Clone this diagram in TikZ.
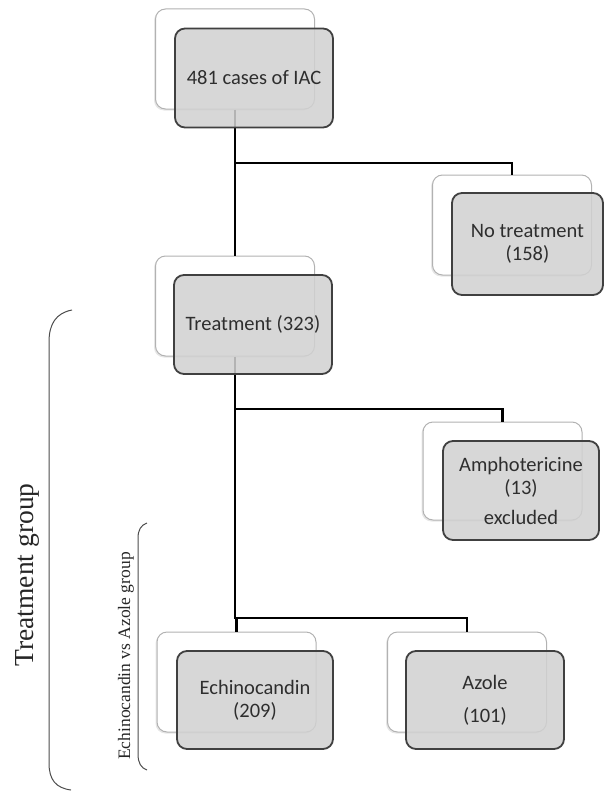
\documentclass[tikz,border=0pt]{standalone}
\usepackage{fontspec}
\setmainfont{Liberation Serif}
\newfontfamily\boxfont{Carlito}
\usetikzlibrary{shadows}
\begin{document}
\begin{tikzpicture}[x=1pt,y=-1pt,
  backbox/.style={draw=black!30, line width=1pt, fill=white, rounded corners=10pt,
    minimum width=159pt, minimum height=100pt, inner sep=0pt,
    drop shadow={shadow xshift=-1.5pt, shadow yshift=-1.5pt, opacity=0.2}},
  frontbox/.style={draw=black!75, line width=1.8pt, fill=black!18, fill opacity=0.86,
    text opacity=1, rounded corners=10pt, minimum width=158pt, minimum height=99pt,
    inner sep=0pt, align=center, text=black!82,
    font=\boxfont\fontsize{20.5}{23}\selectfont},
  conn/.style={draw=black, line width=2.7pt},
  bracket/.style={draw=black!70, line width=1pt},
  grouplabel/.style={rotate=90, text=black!85, inner sep=0pt}]
\useasboundingbox (0,0) rectangle (604,792);
% back boxes
\node[backbox] (b1)  at (235,59) {};
\node[backbox] (bNT) at (512,225) {};
\node[backbox] (bT)  at (235,306) {};
\node[backbox, minimum height=98pt] (bA) at (502.5,471) {};
\node[backbox] (bE)  at (236.5,682) {};
\node[backbox] (bZ)  at (467,682) {};
% junctions
\coordinate (j1) at (235,163);
\coordinate (j2) at (235,409);
\coordinate (j3) at (235,618);
% connectors
\draw[conn] (b1.south) -- (bT.north);
\draw[conn] (j1) -| (bNT.north);
\draw[conn] (bT.south) -- (j3) -| (bE.north);
\draw[conn] (j2) -| (bA.north);
\draw[conn] (j3) -| (bZ.north);
% front boxes
\node[frontbox] (f1)  at (254,78) {481 cases of IAC};
\node[frontbox, minimum width=151pt, minimum height=102pt] (fNT) at (527.5,244) {No treatment\\(158)};
\node[frontbox] (fT)  at (253,324.5) {Treatment (323)};
\node[frontbox, minimum width=156pt] (fA) at (521,490.5) {Amphotericine\\(13)\\[7pt]excluded};
\node[frontbox, minimum width=156pt, minimum height=98pt] (fE) at (255,700) {Echinocandin\\(209)};
\node[frontbox, minimum height=98pt] (fZ) at (485,700) {Azole\\[10pt](101)};
% brackets
\draw[bracket] (72,310) .. controls (56,313) and (49,324) .. (49,342) -- (49,763)
  .. controls (49,780) and (56,788) .. (71,790);
\draw[bracket] (147,523) .. controls (141,525) and (138,530) .. (138,538) -- (138,754)
  .. controls (138,763) and (141,768) .. (147,770);
% labels
\node[grouplabel, font=\fontsize{27.5}{30}\selectfont] (lt) at (27,575) {Treatment group};
\node[grouplabel, font=\fontsize{17.5}{20}\selectfont] (le) at (126,656) {Echinocandin vs Azole group};
\end{tikzpicture}
\end{document}
